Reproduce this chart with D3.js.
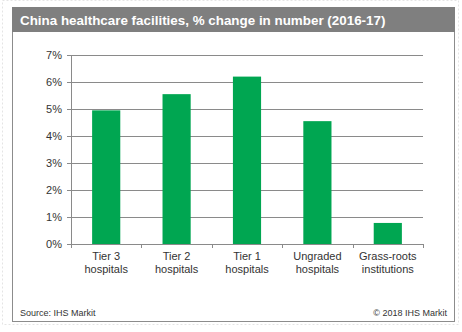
<!DOCTYPE html>
<html>
<head>
<meta charset="utf-8">
<script src="https://cdn.jsdelivr.net/npm/d3@7"></script>
<style>
  body { margin: 0; background: #fff; }
  text { font-family: Arial, "Liberation Sans", sans-serif; }
</style>
</head>
<body>
<div id="chart"></div>
<script>
var categories = [["Tier 3", "hospitals"], ["Tier 2", "hospitals"], ["Tier 1", "hospitals"], ["Ungraded", "hospitals"], ["Grass-roots", "institutions"]];
var values = [4.95, 5.55, 6.2, 4.55, 0.78];
var yTicks = [0, 1, 2, 3, 4, 5, 6, 7];

var svgWidth = 462;
var svgHeight = 332;

var margin = { top: 55, right: 39, bottom: 88, left: 71 };
var width = svgWidth - margin.left - margin.right;
var height = svgHeight - margin.top - margin.bottom;

var svg = d3.select("#chart")
  .append("svg")
  .attr("width", svgWidth)
  .attr("height", svgHeight);

// faint page outline
svg.append("rect")
  .attr("x", 2.5).attr("y", 0.5)
  .attr("width", 456).attr("height", 324)
  .attr("fill", "none")
  .attr("stroke", "#e4e4e4")
  .attr("stroke-dasharray", "2,2");

// frame
svg.append("rect")
  .attr("x", 12.5).attr("y", 7.5)
  .attr("width", 442).attr("height", 314)
  .attr("fill", "#fff")
  .attr("stroke", "#8c8c8c");

// title bar
svg.append("rect")
  .attr("x", 12).attr("y", 7)
  .attr("width", 443).attr("height", 25)
  .attr("fill", "#7f7f7f");

svg.append("text")
  .attr("x", 20).attr("y", 24.5)
  .attr("fill", "#fff")
  .attr("font-weight", "bold")
  .attr("font-size", "13.4px")
  .text("China healthcare facilities, % change in number (2016-17)");

var chartGroup = svg.append("g")
  .attr("transform", `translate(${margin.left}, ${margin.top})`);

var x = d3.scaleBand()
  .domain(d3.range(categories.length))
  .range([0, width])
  .paddingInner(0.6)
  .paddingOuter(0.3);

var y = d3.scaleLinear()
  .domain([0, 7])
  .range([height, 0]);

// gridlines
chartGroup.selectAll(".grid")
  .data(yTicks.slice(1))
  .enter()
  .append("line")
  .attr("x1", 0).attr("x2", width)
  .attr("y1", d => Math.round(y(d)) + 0.5)
  .attr("y2", d => Math.round(y(d)) + 0.5)
  .attr("stroke", "#8a8a8a");

// bars
chartGroup.selectAll(".bar")
  .data(values)
  .enter()
  .append("rect")
  .attr("x", (d, i) => x(i))
  .attr("width", x.bandwidth())
  .attr("y", d => y(d))
  .attr("height", d => height - y(d))
  .attr("fill", "#00a651");

// left axis
var leftAxis = d3.axisLeft(y)
  .tickValues(yTicks)
  .tickSize(4)
  .tickPadding(5)
  .tickFormat(d => d + "%");

var ly = chartGroup.append("g").call(leftAxis);
ly.selectAll("path, line").attr("stroke", "#8a8a8a");
ly.selectAll("text").attr("fill", "#333").attr("font-size", "11px").attr("font-family", "Arial, 'Liberation Sans', sans-serif");

// bottom axis: ticks between categories
var bottomG = chartGroup.append("g").attr("transform", `translate(0, ${height})`);
bottomG.append("line")
  .attr("x1", 0).attr("x2", width)
  .attr("y1", 0.5).attr("y2", 0.5)
  .attr("stroke", "#8a8a8a");

var step = x.step();
var sepX = d3.range(categories.length + 1).map(i => i === 0 ? 0 : (i === categories.length ? width : x(i) - x.paddingInner() * step / 2));
bottomG.selectAll(".sep")
  .data(sepX)
  .enter()
  .append("line")
  .attr("x1", d => Math.round(d) + 0.5).attr("x2", d => Math.round(d) + 0.5)
  .attr("y1", 0).attr("y2", 4)
  .attr("stroke", "#8a8a8a");

var labels = bottomG.selectAll(".cat")
  .data(categories)
  .enter()
  .append("text")
  .attr("text-anchor", "middle")
  .attr("fill", "#333")
  .attr("font-size", "11px")
  .attr("transform", (d, i) => `translate(${x(i) + x.bandwidth() / 2}, 16)`);

labels.selectAll("tspan")
  .data(d => d)
  .enter()
  .append("tspan")
  .attr("x", 0)
  .attr("y", (d, j) => j * 13)
  .text(d => d);

// footer
svg.append("text")
  .attr("x", 20).attr("y", 316)
  .attr("fill", "#333")
  .attr("font-size", "9px")
  .text("Source: IHS Markit");

svg.append("text")
  .attr("x", 447).attr("y", 316)
  .attr("text-anchor", "end")
  .attr("fill", "#333")
  .attr("font-size", "9px")
  .text("\u00a9 2018 IHS Markit");
</script>
</body>
</html>
